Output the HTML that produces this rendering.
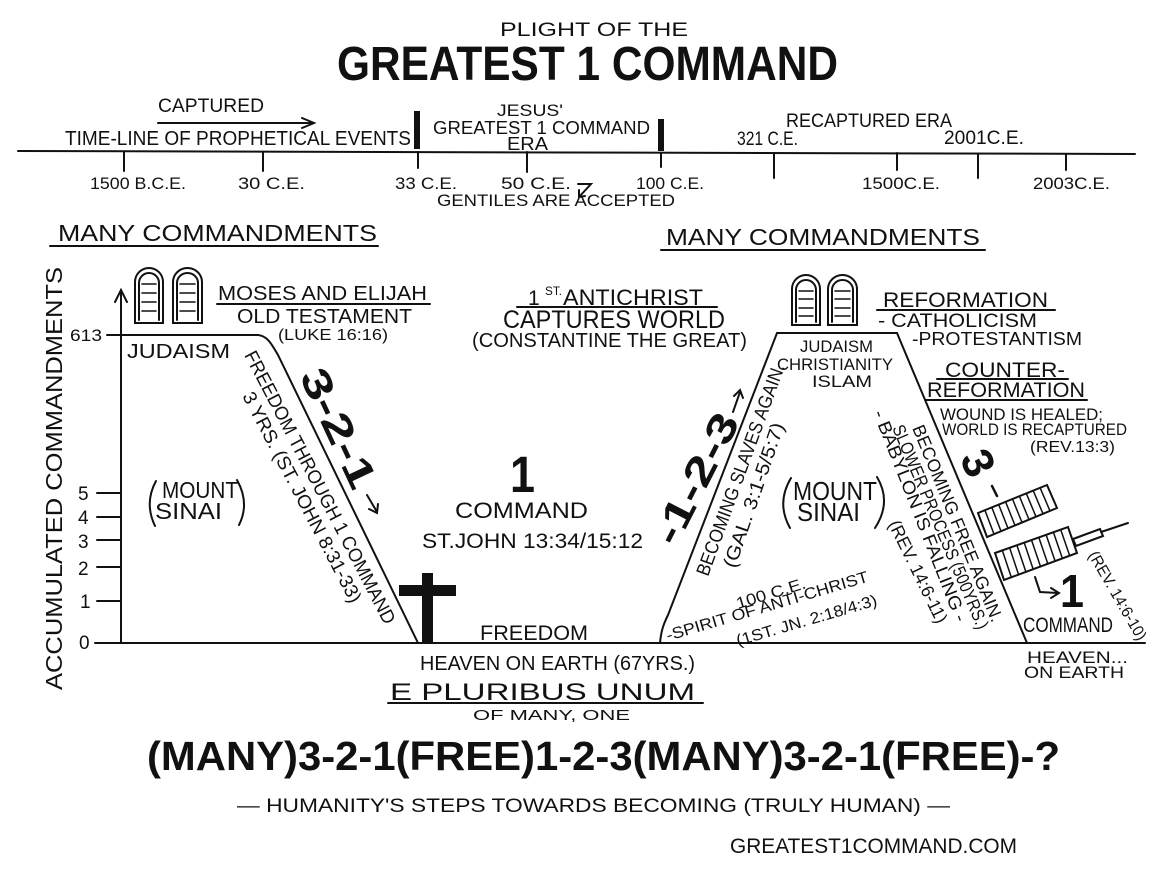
<!DOCTYPE html>
<html><head><meta charset="utf-8">
<style>
html,body{margin:0;padding:0;background:#fff;}
svg{display:block;}
text{font-family:"Liberation Sans",sans-serif;fill:#111;}
.b{font-weight:bold;}
</style></head>
<body>
<svg width="1164" height="872" viewBox="0 0 1164 872" xmlns="http://www.w3.org/2000/svg">
<rect width="1164" height="872" fill="#fff"/>
<g stroke="#111" stroke-width="2" fill="none" stroke-linecap="round">
<!-- timeline -->
<line x1="18" y1="151" x2="1135" y2="154"/>
<line x1="158" y1="123" x2="313" y2="123"/>
<polyline points="302,118 314,123 302,128"/>
<line x1="124" y1="152" x2="124" y2="171"/>
<line x1="263" y1="152" x2="263" y2="171"/>
<line x1="418" y1="152" x2="418" y2="168"/>
<line x1="527" y1="152" x2="527" y2="172"/>
<line x1="661" y1="153" x2="661" y2="167"/>
<line x1="774" y1="153" x2="774" y2="178"/>
<line x1="897" y1="153" x2="897" y2="170"/>
<line x1="978" y1="154" x2="978" y2="178"/>
<line x1="1066" y1="154" x2="1066" y2="170"/>
<path d="M578,184 L591,184 L579,197 M579,197 L579,190 M579,197 L585,196"/>
<!-- underlines -->
<line x1="50" y1="246" x2="378" y2="246"/>
<line x1="661" y1="250" x2="985" y2="250"/>
<line x1="217" y1="304" x2="430" y2="304"/>
<line x1="517" y1="307" x2="717" y2="307"/>
<line x1="877" y1="310" x2="1055" y2="310"/>
<line x1="937" y1="379" x2="1068" y2="379"/>
<line x1="925" y1="400" x2="1087" y2="400"/>
<line x1="388" y1="703" x2="703" y2="703"/>
<!-- axes -->
<line x1="121" y1="643" x2="121" y2="290"/>
<polyline points="115,302 121,290 127,302"/>
<line x1="95" y1="643" x2="1145" y2="643"/>
<line x1="97" y1="493" x2="121" y2="493"/>
<line x1="97" y1="517" x2="121" y2="517"/>
<line x1="97" y1="540" x2="121" y2="540"/>
<line x1="97" y1="567" x2="121" y2="567"/>
<line x1="97" y1="601" x2="121" y2="601"/>
<!-- left mountain -->
<path d="M107,335 L258,335 C268,336 272,345 278,355 L418,643"/>
<!-- right mountain -->
<path d="M660,643 C661,632 663,625 668,615 L777,333 L897,333 L1027,643"/>
<!-- parens -->
<path d="M156,481 Q144,503 155,526"/>
<path d="M237,480 Q250,503 239,525"/>
<path d="M791,478 Q776,503 790,528"/>
<path d="M877,477 Q892,502 875,528"/>
<!-- tablets left -->
<path d="M135,323 L135,282 A14,14 0 0 1 163,282 L163,323 Z"/>
<path d="M139,320 L139,283 A10,10 0 0 1 159,283 L159,320"/>
<path d="M173,323 L173,282 A14.5,14 0 0 1 202,282 L202,323 Z"/>
<path d="M177,320 L177,283 A10.5,10 0 0 1 198,283 L198,320"/>
<g stroke-width="1.6">
<line x1="142" y1="284" x2="156" y2="284"/><line x1="142" y1="293" x2="156" y2="293"/><line x1="142" y1="302" x2="156" y2="302"/><line x1="142" y1="311" x2="156" y2="311"/>
<line x1="180" y1="284" x2="195" y2="284"/><line x1="180" y1="293" x2="195" y2="293"/><line x1="180" y1="302" x2="195" y2="302"/><line x1="180" y1="311" x2="195" y2="311"/>
</g>
<!-- tablets right -->
<path d="M792,325 L792,289 A14,14 0 0 1 820,289 L820,325 Z"/>
<path d="M796,322 L796,290 A10,10 0 0 1 816,290 L816,322"/>
<path d="M828,325 L828,289 A14.5,14 0 0 1 857,289 L857,325 Z"/>
<path d="M832,322 L832,290 A10.5,10 0 0 1 853,290 L853,322"/>
<g stroke-width="1.6">
<line x1="799" y1="291" x2="813" y2="291"/><line x1="799" y1="299" x2="813" y2="299"/><line x1="799" y1="308" x2="813" y2="308"/><line x1="799" y1="316" x2="813" y2="316"/>
<line x1="835" y1="291" x2="850" y2="291"/><line x1="835" y1="299" x2="850" y2="299"/><line x1="835" y1="308" x2="850" y2="308"/><line x1="835" y1="316" x2="850" y2="316"/>
</g>
<!-- ladders -->
<polygon points="978,513 1047,485 1057,508 987,537"/>
<g stroke-width="1.5">
<line x1="984.9" y1="510.2" x2="994" y2="534.1"/><line x1="991.8" y1="507.4" x2="1001" y2="531.2"/><line x1="998.7" y1="504.6" x2="1008" y2="528.3"/><line x1="1005.6" y1="501.8" x2="1015" y2="525.4"/><line x1="1012.5" y1="499" x2="1022" y2="522.5"/><line x1="1019.4" y1="496.2" x2="1029" y2="519.6"/><line x1="1026.3" y1="493.4" x2="1036" y2="516.7"/><line x1="1033.2" y1="490.6" x2="1043" y2="513.8"/><line x1="1040.1" y1="487.8" x2="1050" y2="510.9"/>
</g>
<polygon points="995,553 1068,527 1077,553 1004,580"/>
<g stroke-width="1.5">
<line x1="1002.3" y1="550.4" x2="1011.3" y2="577.3"/><line x1="1009.6" y1="547.8" x2="1018.6" y2="574.6"/><line x1="1016.9" y1="545.2" x2="1025.9" y2="571.9"/><line x1="1024.2" y1="542.6" x2="1033.2" y2="569.2"/><line x1="1031.5" y1="540" x2="1040.5" y2="566.5"/><line x1="1038.8" y1="537.4" x2="1047.8" y2="563.8"/><line x1="1046.1" y1="534.8" x2="1055.1" y2="561.1"/><line x1="1053.4" y1="532.2" x2="1062.4" y2="558.4"/><line x1="1060.7" y1="529.6" x2="1069.7" y2="555.7"/>
</g>
<polygon points="1073,539 1100,529 1103,536 1076,546"/>
<line x1="1101" y1="532" x2="1128" y2="523"/>
<!-- small arrows -->
<polyline points="1035,577 1040,592 1058,593"/>
<polyline points="1051,588 1059,593 1051,598"/>
<line x1="367" y1="495" x2="377" y2="512"/>
<polyline points="369,509 377,513 378,504"/>
<line x1="733" y1="412" x2="740" y2="392"/>
<polyline points="734,396 740,390 743,398"/>
<line x1="992" y1="486" x2="997" y2="496" stroke-width="2.5"/>
</g>
<!-- thick bars & cross -->
<rect x="414" y="111" width="6" height="38" fill="#111"/>
<rect x="658" y="119" width="6" height="32" fill="#111"/>
<rect x="422" y="573" width="11" height="71" fill="#111"/>
<rect x="399" y="585" width="57" height="11" fill="#111"/>

<!-- title -->
<text x="500" y="36" font-size="19" textLength="188" lengthAdjust="spacingAndGlyphs">PLIGHT OF THE</text>
<text class="b" x="337" y="80" font-size="48" textLength="501" lengthAdjust="spacingAndGlyphs">GREATEST 1 COMMAND</text>

<!-- timeline labels -->
<text x="158" y="112" font-size="19" textLength="106" lengthAdjust="spacingAndGlyphs">CAPTURED</text>
<text x="65" y="145" font-size="20" textLength="346" lengthAdjust="spacingAndGlyphs">TIME-LINE OF PROPHETICAL EVENTS</text>
<text x="497" y="116" font-size="17" textLength="66" lengthAdjust="spacingAndGlyphs">JESUS'</text>
<text x="433" y="134" font-size="18" textLength="217" lengthAdjust="spacingAndGlyphs">GREATEST 1 COMMAND</text>
<text x="507" y="150" font-size="18" textLength="41" lengthAdjust="spacingAndGlyphs">ERA</text>
<text x="786" y="127" font-size="19" textLength="166" lengthAdjust="spacingAndGlyphs">RECAPTURED ERA</text>
<text x="737" y="145" font-size="19" textLength="61" lengthAdjust="spacingAndGlyphs">321 C.E.</text>
<text x="944" y="144" font-size="19" textLength="80" lengthAdjust="spacingAndGlyphs">2001C.E.</text>
<text x="90" y="189" font-size="17" textLength="96" lengthAdjust="spacingAndGlyphs">1500 B.C.E.</text>
<text x="238" y="189" font-size="17" textLength="67" lengthAdjust="spacingAndGlyphs">30 C.E.</text>
<text x="395" y="189" font-size="17" textLength="62" lengthAdjust="spacingAndGlyphs">33 C.E.</text>
<text x="501" y="189" font-size="17" textLength="70" lengthAdjust="spacingAndGlyphs">50 C.E.</text>
<text x="636" y="189" font-size="17" textLength="68" lengthAdjust="spacingAndGlyphs">100 C.E.</text>
<text x="862" y="189" font-size="17" textLength="78" lengthAdjust="spacingAndGlyphs">1500C.E.</text>
<text x="1033" y="189" font-size="17" textLength="77" lengthAdjust="spacingAndGlyphs">2003C.E.</text>
<text x="437" y="206" font-size="17" textLength="238" lengthAdjust="spacingAndGlyphs">GENTILES ARE ACCEPTED</text>
<text x="58" y="241" font-size="23" textLength="319" lengthAdjust="spacingAndGlyphs">MANY COMMANDMENTS</text>
<text x="666" y="245" font-size="23" textLength="314" lengthAdjust="spacingAndGlyphs">MANY COMMANDMENTS</text>

<!-- axis -->
<text transform="translate(62,690) rotate(-90)" font-size="23" textLength="423" lengthAdjust="spacingAndGlyphs">ACCUMULATED COMMANDMENTS</text>
<text x="70" y="341" font-size="17" textLength="32" lengthAdjust="spacingAndGlyphs">613</text>
<text x="78" y="500" font-size="19">5</text>
<text x="78" y="524" font-size="19">4</text>
<text x="78" y="548" font-size="19">3</text>
<text x="78" y="575" font-size="19">2</text>
<text x="80" y="608" font-size="19">1</text>
<text x="79" y="649" font-size="19">0</text>

<!-- left mountain labels -->
<text x="218" y="300" font-size="20" textLength="209" lengthAdjust="spacingAndGlyphs">MOSES AND ELIJAH</text>
<text x="237" y="323" font-size="20" textLength="175" lengthAdjust="spacingAndGlyphs">OLD TESTAMENT</text>
<text x="278" y="340" font-size="16" textLength="110" lengthAdjust="spacingAndGlyphs">(LUKE 16:16)</text>
<text x="127" y="358" font-size="20" textLength="103" lengthAdjust="spacingAndGlyphs">JUDAISM</text>
<text x="162" y="498" font-size="23" textLength="76" lengthAdjust="spacingAndGlyphs">MOUNT</text>
<text x="155" y="519" font-size="23" textLength="67" lengthAdjust="spacingAndGlyphs">SINAI</text>
<text transform="translate(244,355) rotate(62.5)" font-size="19" textLength="305" lengthAdjust="spacingAndGlyphs">FREEDOM THROUGH 1 COMMAND</text>
<text transform="translate(242,396) rotate(62.4)" font-size="19" textLength="235" lengthAdjust="spacingAndGlyphs">3 YRS. (ST. JOHN 8:31-33)</text>
<text class="b" transform="translate(299,376) rotate(65)" font-size="40" textLength="128" lengthAdjust="spacingAndGlyphs">3-2-1</text>

<!-- middle -->
<text x="528" y="305" font-size="21">1</text>
<text x="545" y="295" font-size="12" textLength="17" lengthAdjust="spacingAndGlyphs">ST.</text>
<text x="563" y="305" font-size="22" textLength="140" lengthAdjust="spacingAndGlyphs">ANTICHRIST</text>
<text x="503" y="328" font-size="25" textLength="222" lengthAdjust="spacingAndGlyphs">CAPTURES WORLD</text>
<text x="472" y="347" font-size="20" textLength="275" lengthAdjust="spacingAndGlyphs">(CONSTANTINE THE GREAT)</text>
<text class="b" x="510" y="492" font-size="51" textLength="25" lengthAdjust="spacingAndGlyphs">1</text>
<text x="455" y="518" font-size="22" textLength="133" lengthAdjust="spacingAndGlyphs">COMMAND</text>
<text x="422" y="548" font-size="21" textLength="221" lengthAdjust="spacingAndGlyphs">ST.JOHN 13:34/15:12</text>
<text x="480" y="640" font-size="21" textLength="108" lengthAdjust="spacingAndGlyphs">FREEDOM</text>
<text x="420" y="670" font-size="20" textLength="275" lengthAdjust="spacingAndGlyphs">HEAVEN ON EARTH (67YRS.)</text>

<!-- right mountain -->
<text class="b" transform="translate(676,548) rotate(-63)" font-size="40" textLength="142" lengthAdjust="spacingAndGlyphs">-1-2-3</text>
<text transform="translate(708,577) rotate(-69.9)" font-size="19" textLength="224" lengthAdjust="spacingAndGlyphs">BECOMING SLAVES AGAIN.</text>
<text transform="translate(735,569) rotate(-71)" font-size="19" textLength="152" lengthAdjust="spacingAndGlyphs">(GAL. 3:1-5/5:7)</text>
<text x="800" y="352" font-size="17" textLength="73" lengthAdjust="spacingAndGlyphs">JUDAISM</text>
<text x="777" y="370" font-size="17" textLength="116" lengthAdjust="spacingAndGlyphs">CHRISTIANITY</text>
<text x="812" y="387" font-size="17" textLength="60" lengthAdjust="spacingAndGlyphs">ISLAM</text>
<text x="793" y="500" font-size="26" textLength="84" lengthAdjust="spacingAndGlyphs">MOUNT</text>
<text x="797" y="521" font-size="26" textLength="63" lengthAdjust="spacingAndGlyphs">SINAI</text>
<text transform="translate(738,609) rotate(-17)" font-size="16" textLength="72" lengthAdjust="spacingAndGlyphs">100 C.E.</text>
<text transform="translate(668,641) rotate(-16.5)" font-size="16" textLength="210" lengthAdjust="spacingAndGlyphs">-SPIRIT OF ANTI-CHRIST</text>
<text transform="translate(738,646) rotate(-16.3)" font-size="16" textLength="146" lengthAdjust="spacingAndGlyphs">(1ST. JN. 2:18/4:3)</text>
<text transform="translate(912,428) rotate(67.7)" font-size="18" textLength="211" lengthAdjust="spacingAndGlyphs">BECOMING FREE AGAIN.</text>
<text transform="translate(892,428) rotate(67)" font-size="18" textLength="220" lengthAdjust="spacingAndGlyphs">SLOWER PROCESS (500YRS.)</text>
<text transform="translate(873,413) rotate(68.4)" font-size="18" textLength="226" lengthAdjust="spacingAndGlyphs">- BABYLON IS FALLING -</text>
<text transform="translate(888,524) rotate(64)" font-size="18" textLength="112" lengthAdjust="spacingAndGlyphs">(REV. 14:6-11)</text>

<!-- right labels -->
<text x="883" y="307" font-size="21" textLength="165" lengthAdjust="spacingAndGlyphs">REFORMATION</text>
<text x="878" y="327" font-size="19" textLength="159" lengthAdjust="spacingAndGlyphs">- CATHOLICISM</text>
<text x="912" y="345" font-size="18" textLength="170" lengthAdjust="spacingAndGlyphs">-PROTESTANTISM</text>
<text x="945" y="377" font-size="21" textLength="120" lengthAdjust="spacingAndGlyphs">COUNTER-</text>
<text x="927" y="397" font-size="21" textLength="158" lengthAdjust="spacingAndGlyphs">REFORMATION</text>
<text x="940" y="420" font-size="17" textLength="163" lengthAdjust="spacingAndGlyphs">WOUND IS HEALED;</text>
<text x="942" y="435" font-size="17" textLength="185" lengthAdjust="spacingAndGlyphs">WORLD IS RECAPTURED</text>
<text x="1030" y="452" font-size="16" textLength="85" lengthAdjust="spacingAndGlyphs">(REV.13:3)</text>
<text class="b" transform="translate(978,463) rotate(65)" font-size="44" text-anchor="middle" dy="15">3</text>
<text class="b" x="1060" y="607" font-size="46" textLength="24" lengthAdjust="spacingAndGlyphs">1</text>
<text x="1023" y="632" font-size="21" textLength="90" lengthAdjust="spacingAndGlyphs">COMMAND</text>
<text transform="translate(1088,555) rotate(60)" font-size="16" textLength="100" lengthAdjust="spacingAndGlyphs">(REV. 14:6-10)</text>
<text x="1027" y="663" font-size="17" textLength="101" lengthAdjust="spacingAndGlyphs">HEAVEN...</text>
<text x="1024" y="678" font-size="17" textLength="100" lengthAdjust="spacingAndGlyphs">ON EARTH</text>

<!-- bottom -->
<text x="390" y="700" font-size="24" textLength="305" lengthAdjust="spacingAndGlyphs">E  PLURIBUS  UNUM</text>
<text x="473" y="720" font-size="15" textLength="157" lengthAdjust="spacingAndGlyphs">OF MANY, ONE</text>
<text class="b" x="147" y="770" font-size="41" textLength="913" lengthAdjust="spacingAndGlyphs">(MANY)3-2-1(FREE)1-2-3(MANY)3-2-1(FREE)-?</text>
<text x="237" y="812" font-size="19" textLength="713" lengthAdjust="spacingAndGlyphs">— HUMANITY'S STEPS TOWARDS BECOMING (TRULY HUMAN) —</text>
<text x="730" y="853" font-size="21" textLength="287" lengthAdjust="spacingAndGlyphs">GREATEST1COMMAND.COM</text>
</svg>
</body></html>
